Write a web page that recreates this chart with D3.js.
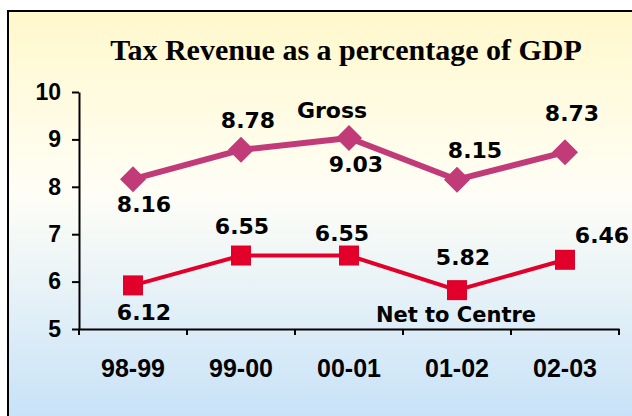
<!DOCTYPE html>
<html>
<head>
<meta charset="utf-8">
<script src="https://cdn.jsdelivr.net/npm/d3@7"></script>
<style>
  html, body { margin: 0; padding: 0; background: #fff; }
  svg { display: block; }
</style>
</head>
<body>
<div id="chart"></div>
<script>
// Tax revenue as a percentage of GDP, gross vs net to centre

const categories = ['98-99', '99-00', '00-01', '01-02', '02-03'];
const grossValues = [8.16, 8.78, 9.03, 8.15, 8.73];
const grossLabels = ['8.16', '8.78', '9.03', '8.15', '8.73'];
const netValues = [5.92, 6.55, 6.55, 5.82, 6.46];
const netLabels = ['6.12', '6.55', '6.55', '5.82', '6.46'];
const yTicks = [5, 6, 7, 8, 9, 10];

const width = 632;
const height = 416;

const svg = d3.select('#chart')
  .append('svg')
  .attr('width', width)
  .attr('height', height);

// background panel with yellow -> white -> blue gradient
const grad = svg.append('defs').append('linearGradient')
  .attr('id', 'bg')
  .attr('gradientUnits', 'userSpaceOnUse')
  .attr('x1', 0).attr('y1', 11)
  .attr('x2', 0).attr('y2', 416);
grad.append('stop').attr('offset', 0).attr('stop-color', '#fff8cc');
grad.append('stop').attr('offset', 0.45).attr('stop-color', '#fffef6');
grad.append('stop').attr('offset', 1).attr('stop-color', '#c8e2f8');

svg.append('rect')
  .attr('x', 8).attr('y', 11)
  .attr('width', 700).attr('height', 500)
  .attr('fill', 'url(#bg)')
  .attr('stroke', '#000')
  .attr('stroke-width', 2);

svg.append('text')
  .attr('x', 346).attr('y', 60)
  .attr('text-anchor', 'middle')
  .style('font-family', '"Liberation Serif", "Times New Roman", serif')
  .style('font-weight', 'bold')
  .style('font-size', '30px')
  .text('Tax Revenue as a percentage of GDP');

const x = d3.scaleBand()
  .domain(categories)
  .range([79, 619]);

const y = d3.scaleLinear()
  .domain([5, 10])
  .range([329, 92]);

const cx = c => x(c) + x.bandwidth() / 2;

// y axis
const yAxis = svg.append('g')
  .attr('transform', 'translate(79,0)')
  .call(d3.axisLeft(y).tickValues(yTicks).tickFormat(d3.format('d'))
    .tickSize(7).tickSizeOuter(0).tickPadding(11));
yAxis.select('.domain').attr('stroke', '#000').attr('stroke-width', 2);
yAxis.selectAll('.tick line').attr('stroke', '#000').attr('stroke-width', 2);
yAxis.selectAll('.tick text')
  .attr('fill', '#000')
  .style('font-family', '"Liberation Sans", Arial, sans-serif')
  .style('font-weight', 'bold')
  .style('font-size', '23px');

// x axis: labels centred in bands, ticks on band edges
const xAxis = svg.append('g')
  .attr('transform', 'translate(0,329)')
  .call(d3.axisBottom(x).tickSize(0).tickSizeOuter(0).tickPadding(30));
xAxis.select('.domain').attr('stroke', '#000').attr('stroke-width', 2);
xAxis.selectAll('.tick text')
  .attr('fill', '#000')
  .style('font-family', '"Liberation Sans", Arial, sans-serif')
  .style('font-weight', 'bold')
  .style('font-size', '25px');

xAxis.selectAll('.edge')
  .data([categories[0]].concat(categories))
  .enter().append('line')
  .attr('class', 'edge')
  .attr('x1', (d, i) => i === 0 ? x(d) : x(d) + x.bandwidth())
  .attr('x2', (d, i) => i === 0 ? x(d) : x(d) + x.bandwidth())
  .attr('y1', 0).attr('y2', 6)
  .attr('stroke', '#000')
  .attr('stroke-width', 2);

const grossColor = '#c03b78';
const netColor = '#e2002b';

const line = d3.line()
  .x((d, i) => cx(categories[i]))
  .y(d => y(d));

// Gross
svg.append('path')
  .datum(grossValues)
  .attr('d', line)
  .attr('fill', 'none')
  .attr('stroke', grossColor)
  .attr('stroke-width', 6)
  .attr('stroke-linejoin', 'round');

svg.selectAll('.diamond')
  .data(grossValues)
  .enter().append('path')
  .attr('class', 'diamond')
  .attr('transform', (d, i) => `translate(${cx(categories[i])},${y(d)})`)
  .attr('d', 'M0,-13L13,0L0,13L-13,0Z')
  .attr('fill', grossColor);

// Net to Centre
svg.append('path')
  .datum(netValues)
  .attr('d', line)
  .attr('fill', 'none')
  .attr('stroke', netColor)
  .attr('stroke-width', 4);

svg.selectAll('.square')
  .data(netValues)
  .enter().append('rect')
  .attr('class', 'square')
  .attr('x', (d, i) => cx(categories[i]) - 10)
  .attr('y', d => y(d) - 10)
  .attr('width', 20)
  .attr('height', 20)
  .attr('fill', netColor);

// value labels (offsets from each point)
const grossOffsets = [[11, 33], [7, -22], [7, 34], [18, -22], [7, -31]];
const netOffsets = [[11, 35], [1, -22], [-7, -15], [6, -25], [37, -17]];

function valueLabels(values, labels, offsets, cls) {
  svg.selectAll('.' + cls)
    .data(values)
    .enter().append('text')
    .attr('class', cls)
    .attr('x', (d, i) => cx(categories[i]) + offsets[i][0])
    .attr('y', (d, i) => y(d) + offsets[i][1])
    .attr('text-anchor', 'middle')
    .style('font-family', '"DejaVu Sans", Verdana, sans-serif')
    .style('font-weight', 'bold')
    .style('font-size', '22px')
    .text((d, i) => labels[i]);
}
valueLabels(grossValues, grossLabels, grossOffsets, 'glab');
valueLabels(netValues, netLabels, netOffsets, 'nlab');

// series names
svg.append('text')
  .attr('x', cx(categories[2]) - 17).attr('y', 118)
  .attr('text-anchor', 'middle')
  .style('font-family', '"DejaVu Sans", Verdana, sans-serif')
  .style('font-weight', 'bold')
  .style('font-size', '22px')
  .text('Gross');

svg.append('text')
  .attr('x', cx(categories[3]) - 1).attr('y', 322)
  .attr('text-anchor', 'middle')
  .style('font-family', '"DejaVu Sans", Verdana, sans-serif')
  .style('font-weight', 'bold')
  .style('font-size', '21px')
  .text('Net to Centre');
</script>
</body>
</html>
